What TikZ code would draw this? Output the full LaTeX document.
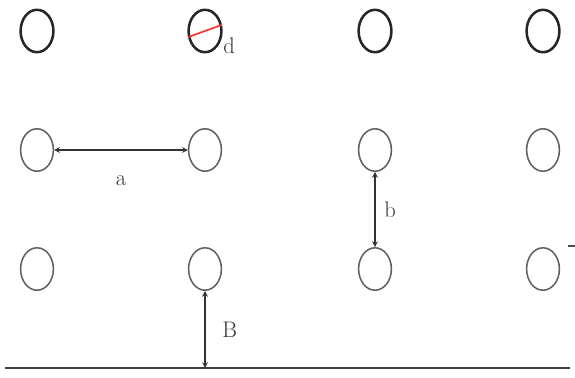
\documentclass[tikz,border=0pt]{standalone}
\usepackage{tikz}
\usetikzlibrary{shapes.geometric}

\begin{document}
\begin{tikzpicture}[x=0.25mm,y=-0.25mm,>=stealth,
  hole/.style={ellipse,draw=gray!75!black,line width=1.1pt,minimum width=8.2mm,minimum height=10.6mm,inner sep=0pt},
  tophole/.style={hole,draw=black!85,line width=1.8pt},
  dim/.style={<->,draw=black!80,line width=0.8pt},
  lbl/.style={font=\fontsize{16}{18}\selectfont,text=black!80}]
\useasboundingbox (0,0) rectangle (575,377);

% --- rejilla de huecos ---
\foreach \x [count=\i] in {37,205,375,543} {
  \node[tophole] (c1\i) at (\x,31) {};
  \node[hole] (c2\i) at (\x,150) {};
  \node[hole] (c3\i) at (\x,269) {};
}

% diametro d
\draw[red!80,line width=1.2pt] (c12.200) -- (c12.20);
\node[lbl] (dl) at (229,46) {d};

% --- suelo ---
\coordinate (gL) at (5,368);
\coordinate (gR) at (570,368);
\draw[line width=2pt,black!75] (gL) -- (gR);
\coordinate (gB) at (c32 |- gL);

% cotas
\draw[dim] (c21) -- (c22) node[midway,below=5mm,lbl] {a};
\draw[dim] (c23) -- (c33) node[midway,right=1mm,lbl] {b};
\draw[dim] (c32) -- (gB) node[midway,right=3mm,lbl] {B};

% marca suelta
\coordinate (t1) at (568,246);
\coordinate (t2) at (575,246);
\draw[line width=0.8pt,black!70] (t1) -- (t2);

\end{tikzpicture}
\end{document}
